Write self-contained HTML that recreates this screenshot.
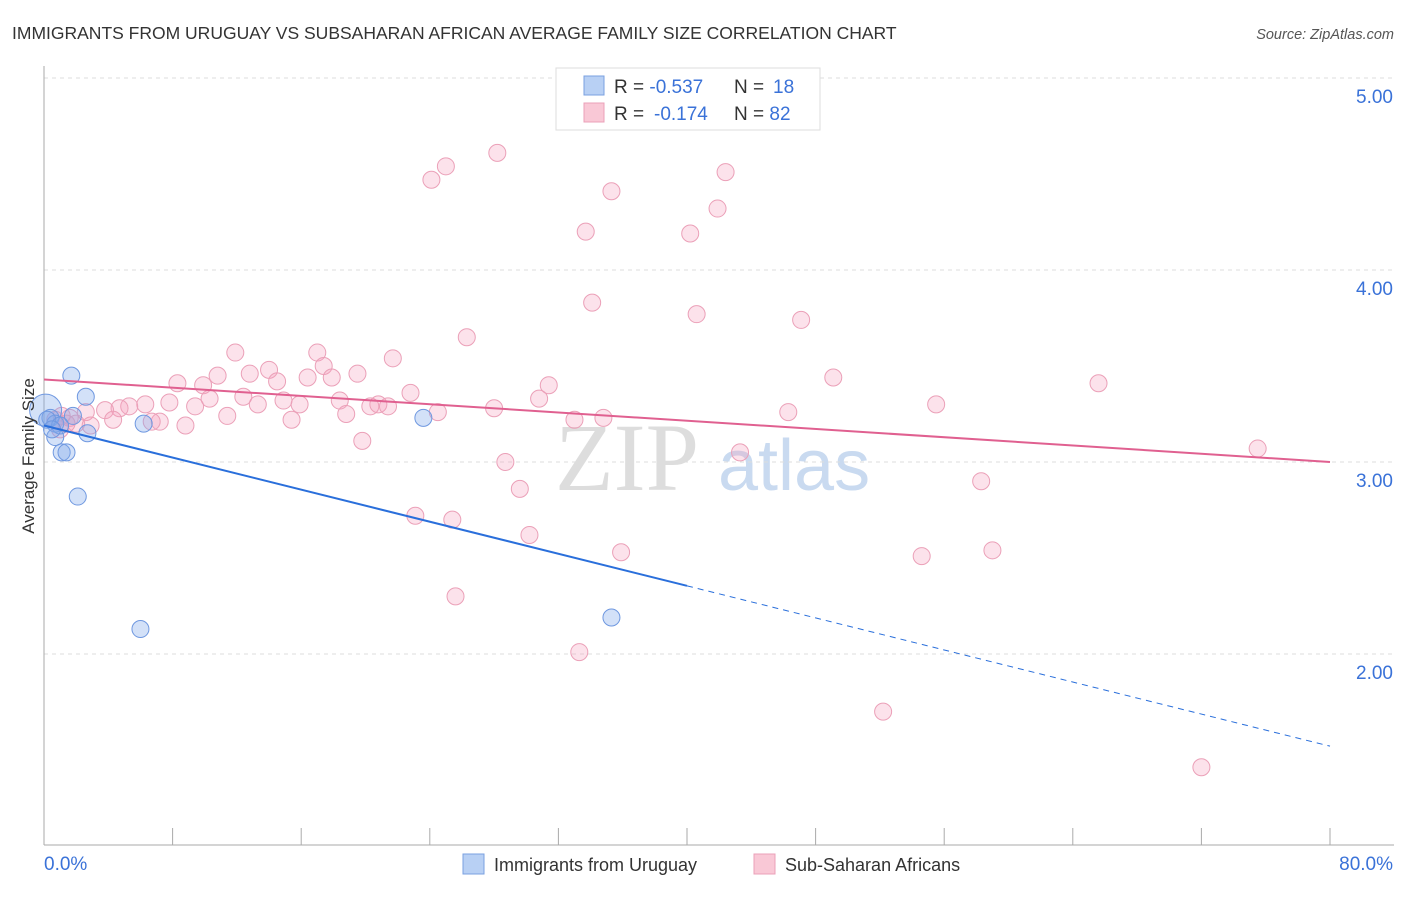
<!DOCTYPE html>
<html><head><meta charset="utf-8"><style>
body{margin:0;background:#fff;font-family:"Liberation Sans",sans-serif}
</style></head><body>
<svg id="chart" width="1406" height="892" xmlns="http://www.w3.org/2000/svg" font-family="Liberation Sans, sans-serif">
<text x="12" y="39" font-size="17.5" fill="#333">IMMIGRANTS FROM URUGUAY VS SUBSAHARAN AFRICAN AVERAGE FAMILY SIZE CORRELATION CHART</text>
<text x="1394" y="39" font-size="14.5" fill="#555" text-anchor="end" font-style="italic">Source: ZipAtlas.com</text>
<g font-size="96">
<text x="555" y="490" fill="#ddd" font-family="Liberation Serif, serif">ZIP</text>
<text x="718" y="490" fill="#c9daf0" font-size="72">atlas</text>
</g>
<g id="grid"></g><g id="axes"></g><g id="pts"></g><g id="lines"></g>
<text transform="translate(34,456) rotate(-90)" font-size="17" fill="#333" text-anchor="middle">Average Family Size</text>
<g>
<rect x="556" y="68" width="264" height="62" fill="#fff" stroke="#ddd"/>
<rect x="584" y="76" width="20" height="19" fill="#b8d0f4" stroke="#7aa0e0"/>
<rect x="584" y="103" width="20" height="19" fill="#f9c8d6" stroke="#eba0b8"/>
<text x="614" y="93" font-size="19" fill="#333">R = <tspan fill="#3a72d8">-0.537</tspan><tspan x="734">N = </tspan><tspan fill="#3a72d8" x="773">18</tspan></text>
<text x="614" y="120" font-size="19" fill="#333">R = <tspan fill="#3a72d8" x="654">-0.174</tspan><tspan x="734">N = </tspan><tspan fill="#3a72d8">82</tspan></text>
</g>
<g font-size="18" fill="#333">
<rect x="463" y="854" width="21" height="20" fill="#b8d0f4" stroke="#7aa0e0"/>
<text x="494" y="871">Immigrants from Uruguay</text>
<rect x="754" y="854" width="21" height="20" fill="#f9c8d6" stroke="#eba0b8"/>
<text x="785" y="871">Sub-Saharan Africans</text>
</g>
</svg>
<script>
const xTicks=[0,8,16,24,32,40,48,56,64,72,80];
const yTicks=[2,3,4,5];
const blueX=[0.1,0.4,0.7,1.7,2.6,0.7,1.1,1.4,2.1,2.7,1.8,6.0,6.2,23.6,35.3,0.2,1.0,0.5];
const blueY=[3.27,3.23,3.20,3.45,3.34,3.13,3.05,3.05,2.82,3.15,3.24,2.13,3.20,3.23,2.19,3.22,3.19,3.17];
const pinkX=[28.2,25.0,24.1,42.4,35.3,41.9,33.7,40.2,34.1,40.6,47.1,26.3,11.9,17.0,21.7,17.4,14.0,10.8,12.8,16.4,17.9,19.5,8.3,9.9,14.5,31.4,49.1,65.6,22.8,12.4,10.3,15.9,13.3,7.8,9.4,6.3,5.3,4.7,3.8,2.6,1.6,1.1,0.7,2.0,2.9,7.2,6.7,4.3,8.8,11.4,14.9,15.4,18.4,18.8,20.3,20.8,21.4,24.5,28.0,30.8,33.0,34.8,46.3,55.5,75.5,19.8,43.3,28.7,29.6,58.3,23.1,25.4,30.2,35.9,54.6,59.0,25.6,33.3,52.2,72.0,1.0,1.4];
const pinkY=[4.61,4.54,4.47,4.51,4.41,4.32,4.20,4.19,3.83,3.77,3.74,3.65,3.57,3.57,3.54,3.50,3.48,3.45,3.46,3.44,3.44,3.46,3.41,3.40,3.42,3.40,3.44,3.41,3.36,3.34,3.33,3.30,3.30,3.31,3.29,3.30,3.29,3.28,3.27,3.26,3.23,3.24,3.22,3.20,3.19,3.21,3.21,3.22,3.19,3.24,3.32,3.22,3.32,3.25,3.29,3.30,3.29,3.26,3.28,3.33,3.22,3.23,3.26,3.30,3.07,3.11,3.05,3.00,2.86,2.90,2.72,2.70,2.62,2.53,2.51,2.54,2.30,2.01,1.70,1.41,3.17,3.20];
const blueTrend=[3.19,1.52];
const pinkTrend=[3.43,3.00];
const X=v=>44+v/80*1286, Y=v=>78+(5-v)*192;
const NS='http://www.w3.org/2000/svg';
function mk(tag,attrs,parent){const e=document.createElementNS(NS,tag);for(const k in attrs)e.setAttribute(k,attrs[k]);document.getElementById(parent).appendChild(e);return e;}
yTicks.forEach(t=>{
 const l=mk('line',{x1:44,x2:1394,y1:Y(t),y2:Y(t),stroke:'#ddd','stroke-dasharray':'4,4'},'grid');
 
 
 const tx=mk('text',{x:1393,y:Y(t)+25,'font-size':19,fill:'#3a72d8','text-anchor':'end'},'grid');
 tx.textContent=t.toFixed(2);
 
 
});
const ax=mk('line',{x1:44,x2:1394,y1:845,y2:845,stroke:'#aaa'},'axes');


const ay=mk('line',{x1:44,x2:44,y1:66,y2:845,stroke:'#aaa'},'axes');


xTicks.forEach(t=>{
 const l=mk('line',{x1:X(t),x2:X(t),y1:828,y2:845,stroke:'#aaa'},'axes');
 
 
});
[[0,'start'],[80,'end']].forEach(([t,a])=>{
 const tx=mk('text',{x:t==0?X(t):X(t)+63,y:870,'font-size':19,fill:'#3a72d8','text-anchor':a},'axes');
 tx.textContent=t.toFixed(1)+'%';
 
 
});
pinkX.forEach((x,i)=>{
 const c=mk('circle',{cx:X(x),cy:Y(pinkY[i]),r:8.5,fill:'rgba(245,160,190,0.3)',stroke:'#eba0b8','stroke-width':1},'pts');
 
 
});
blueX.forEach((x,i)=>{
 const c=mk('circle',{cx:X(x),cy:Y(blueY[i]),r:i==0?16:8.5,fill:'rgba(130,170,235,0.35)',stroke:'#6f98e0','stroke-width':1},'pts');
 
 
});
const pl=mk('line',{x1:X(0),y1:Y(pinkTrend[0]),x2:X(80),y2:Y(pinkTrend[1]),stroke:'#e06090','stroke-width':2},'lines');


const bAt=x=>blueTrend[0]+(blueTrend[1]-blueTrend[0])*x/80;
const bl=mk('line',{x1:X(0),y1:Y(bAt(0)),x2:X(40),y2:Y(bAt(40)),stroke:'#2a6fdb','stroke-width':2},'lines');


const bd=mk('line',{x1:X(40),y1:Y(bAt(40)),x2:X(80),y2:Y(bAt(80)),stroke:'#2a6fdb','stroke-width':1,'stroke-dasharray':'6,5'},'lines');


</script>
</body></html>
